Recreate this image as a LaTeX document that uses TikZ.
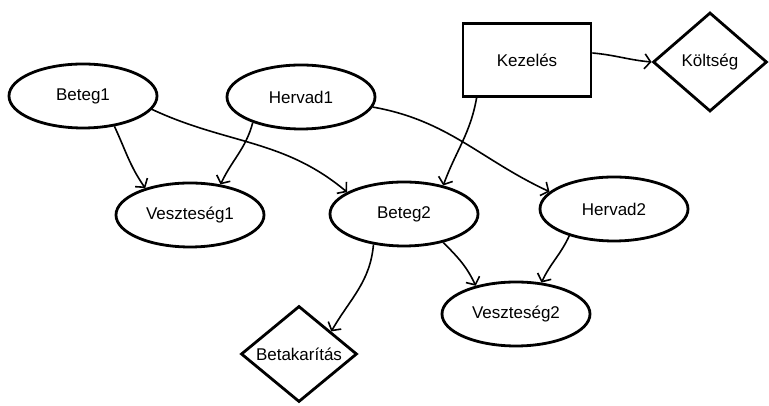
\documentclass[tikz,border=0pt]{standalone}
\usepackage{fontspec}
\setmainfont{Liberation Sans}
\usetikzlibrary{shapes.geometric, arrows.meta}

\begin{document}
\begin{tikzpicture}[x=1pt, y=1pt,
		font=\fontsize{17}{19}\selectfont,
		bubble/.style={draw, line width=2.8pt, ellipse, minimum width=148pt, minimum height=64pt, inner sep=0pt},
		box/.style={draw, line width=2.8pt, rectangle, minimum width=128pt, minimum height=73pt, inner sep=0pt},
		rhombus/.style={draw, line width=2.8pt, diamond, inner sep=0pt},
		link/.style={line width=1.6pt, -{Straight Barb[length=6pt, width=15pt]}}]
	\useasboundingbox (0,0) rectangle (769,406);
	\node[bubble] (beteg1) at (83,310) {Beteg1};
	\node[bubble] (hervad1) at (301,309) {Hervad1};
	\node[bubble] (veszt1) at (190,191) {Veszteség1};
	\node[bubble] (beteg2) at (404,192) {Beteg2};
	\node[bubble] (hervad2) at (614,197) {Hervad2};
	\node[bubble] (veszt2) at (516,92) {Veszteség2};
	\node[box] (kezeles) at (527,346) {Kezelés};
	\node[rhombus, minimum width=114pt, minimum height=99pt] (koltseg) at (710,344) {};
	\node at (koltseg) {Költség};
	\node[rhombus, minimum width=116pt, minimum height=96pt] (betak) at (299,52) {};
	\node at (betak) {Betakarítás};
	\draw[link] (beteg1.-44) to[out=-65, in=125] (veszt1.149);
	\draw[link] (hervad1.-152) to[out=-105, in=65] (veszt1.45);
	\draw[link] (beteg1.-11) to[out=-25, in=140] (beteg2.159);
	\draw[link] (hervad1.-8) to[out=-10, in=155] (hervad2.165);
	\draw[link] ([xshift=15pt]kezeles.south west) to[out=-100, in=70] (beteg2.36);
	\draw[link] ([yshift=7pt]kezeles.east) to[out=-5, in=175] (koltseg.west);
	\draw[link] (beteg2.-135) to[out=-95, in=60] (betak.35);
	\draw[link] (beteg2.-36) to[out=-45, in=115] (veszt2.145);
	\draw[link] (hervad2.-149) to[out=-115, in=65] (veszt2.51);
\end{tikzpicture}
\end{document}
